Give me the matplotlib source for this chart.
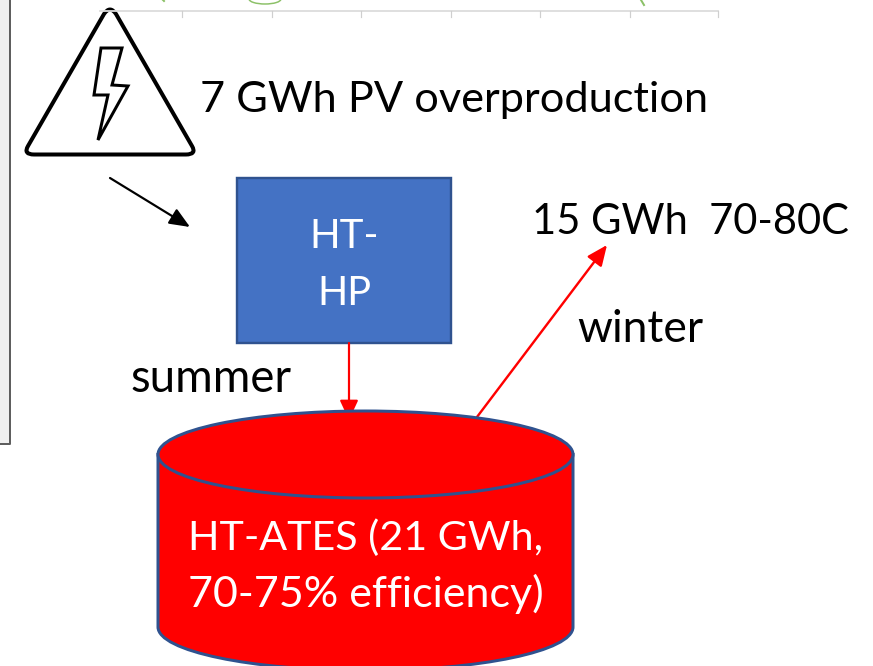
import matplotlib
matplotlib.use('Agg')
import matplotlib.pyplot as plt
from matplotlib.patches import Rectangle, Ellipse, PathPatch, Polygon
from matplotlib.path import Path

plt.rcParams['font.family'] = ['Lato', 'DejaVu Sans']

# text labels
pv_label = "7 GWh PV overproduction"
hp_lines = ["HT-", "HP"]
heat_label = "15 GWh  70-80C"
winter_label = "winter"
summer_label = "summer"
ates_lines = ["HT-ATES (21 GWh,", "70-75% efficiency)"]

# leftover axis of the chart cropped at the top
tick_x = [182, 272, 361, 451, 540, 630, 718]

W, H = 873, 666
BLUE_EDGE = '#2F528F'


def px(n):
    # line widths are measured in pixels of the picture
    return n * 0.72


fig = plt.figure(figsize=(W / 100, H / 100), dpi=100)
ax = fig.add_axes([0, 0, 1, 1])
ax.set_xlim(0, W)
ax.set_ylim(H, 0)
ax.axis('off')

# neighbouring panel on the left edge
ax.add_patch(Rectangle((0, 0), 9.5, 444, fc='#f0f0f0', ec='none'))
ax.plot([9.5, 9.5, 0], [0, 444, 444], color='#5e5e5e', lw=px(2))

# axis line and ticks of the cropped chart
ax.plot([100, 718], [11, 11], color='#dcdcdc', lw=px(1.8))
for x in tick_x:
    ax.plot([x, x], [11, 17], color='#cfcfcf', lw=px(1.2))
ax.add_patch(Ellipse((265, -1), 32, 10, fc='none', ec='#8cc168', lw=px(1.5)))
ax.plot([163, 164], [0, 1], color='#8cc168', lw=px(2))
ax.plot([641, 644], [0, 5], color='#8cc168', lw=px(2))

# warning triangle
tri_verts = [(104, 14), (110, 5), (116, 14), (192, 146), (197, 154.5), (186, 154.5),
             (34, 154.5), (23, 154.5), (28, 146), (104, 14)]
tri_codes = [Path.MOVETO, Path.CURVE3, Path.CURVE3, Path.LINETO, Path.CURVE3, Path.CURVE3,
             Path.LINETO, Path.CURVE3, Path.CURVE3, Path.CLOSEPOLY]
ax.add_patch(PathPatch(Path(tri_verts, tri_codes), fc='white', ec='black', lw=px(4),
                       joinstyle='round'))

# lightning bolt
bolt = [(101, 48), (122, 48), (112, 85), (128, 86), (98, 140), (108, 95), (94, 95)]
ax.add_patch(Polygon(bolt, closed=True, fc='white', ec='black', lw=px(3), joinstyle='miter'))

# black arrow to the heat pump
ax.annotate('', xy=(190, 227), xytext=(110, 178),
            arrowprops=dict(arrowstyle='-|>,head_length=0.62,head_width=0.26', color='black',
                            lw=px(2.2), shrinkA=0, shrinkB=0, mutation_scale=20))

# heat pump box
ax.add_patch(Rectangle((236.5, 178), 214, 165, fc='#4472C4', ec=BLUE_EDGE, lw=px(2.4)))

# red arrows
ax.annotate('', xy=(349, 420), xytext=(349, 343),
            arrowprops=dict(arrowstyle='-|>,head_length=0.6,head_width=0.28', color='#FF0000',
                            lw=px(2.2), shrinkA=0, shrinkB=0, mutation_scale=20))
ax.annotate('', xy=(607, 245), xytext=(477, 417),
            arrowprops=dict(arrowstyle='-|>,head_length=0.62,head_width=0.27', color='#FF0000',
                            lw=px(2.4), shrinkA=0, shrinkB=0, mutation_scale=20))

# storage cylinder
left, right = 158, 573
top_y, bot_y, ry = 454.5, 627, 43.5
k = 0.5523
rx = (right - left) / 2
cx = (right + left) / 2
body = Path(
    [(left, top_y), (left, bot_y),
     (left, bot_y + k * ry), (cx - k * rx, bot_y + ry), (cx, bot_y + ry),
     (cx + k * rx, bot_y + ry), (right, bot_y + k * ry), (right, bot_y),
     (right, top_y), (left, top_y)],
    [Path.MOVETO, Path.LINETO, Path.CURVE4, Path.CURVE4, Path.CURVE4,
     Path.CURVE4, Path.CURVE4, Path.CURVE4, Path.LINETO, Path.CLOSEPOLY])
ax.add_patch(PathPatch(body, fc='#FF0000', ec=BLUE_EDGE, lw=px(3), zorder=3))
ax.add_patch(Ellipse((cx, top_y), right - left, 2 * ry, fc='#FF0000', ec=BLUE_EDGE,
                     lw=px(3), zorder=3))

# text, sizes tuned per label so the widths agree with the picture
ax.text(199.5, 112, pv_label, fontsize=31.15, color='black', va='baseline', ha='left')
ax.text(532, 234, heat_label, fontsize=30, color='black', va='baseline', ha='left')
ax.text(577.5, 342, winter_label, fontsize=32, color='black', va='baseline', ha='left')
ax.text(130, 392, summer_label, fontsize=32.9, color='black', va='baseline', ha='left')
ax.text(344, 248, hp_lines[0], fontsize=29, color='white', va='baseline', ha='center')
ax.text(344, 305, hp_lines[1], fontsize=28.5, color='white', va='baseline', ha='center')
ax.text(365.5, 550, ates_lines[0], fontsize=29.7, color='white', va='baseline', ha='center', zorder=4)
ax.text(365.5, 607, ates_lines[1], fontsize=31, color='white', va='baseline', ha='center', zorder=4)

fig.savefig('out.png', dpi=100)
plt.close(fig)
